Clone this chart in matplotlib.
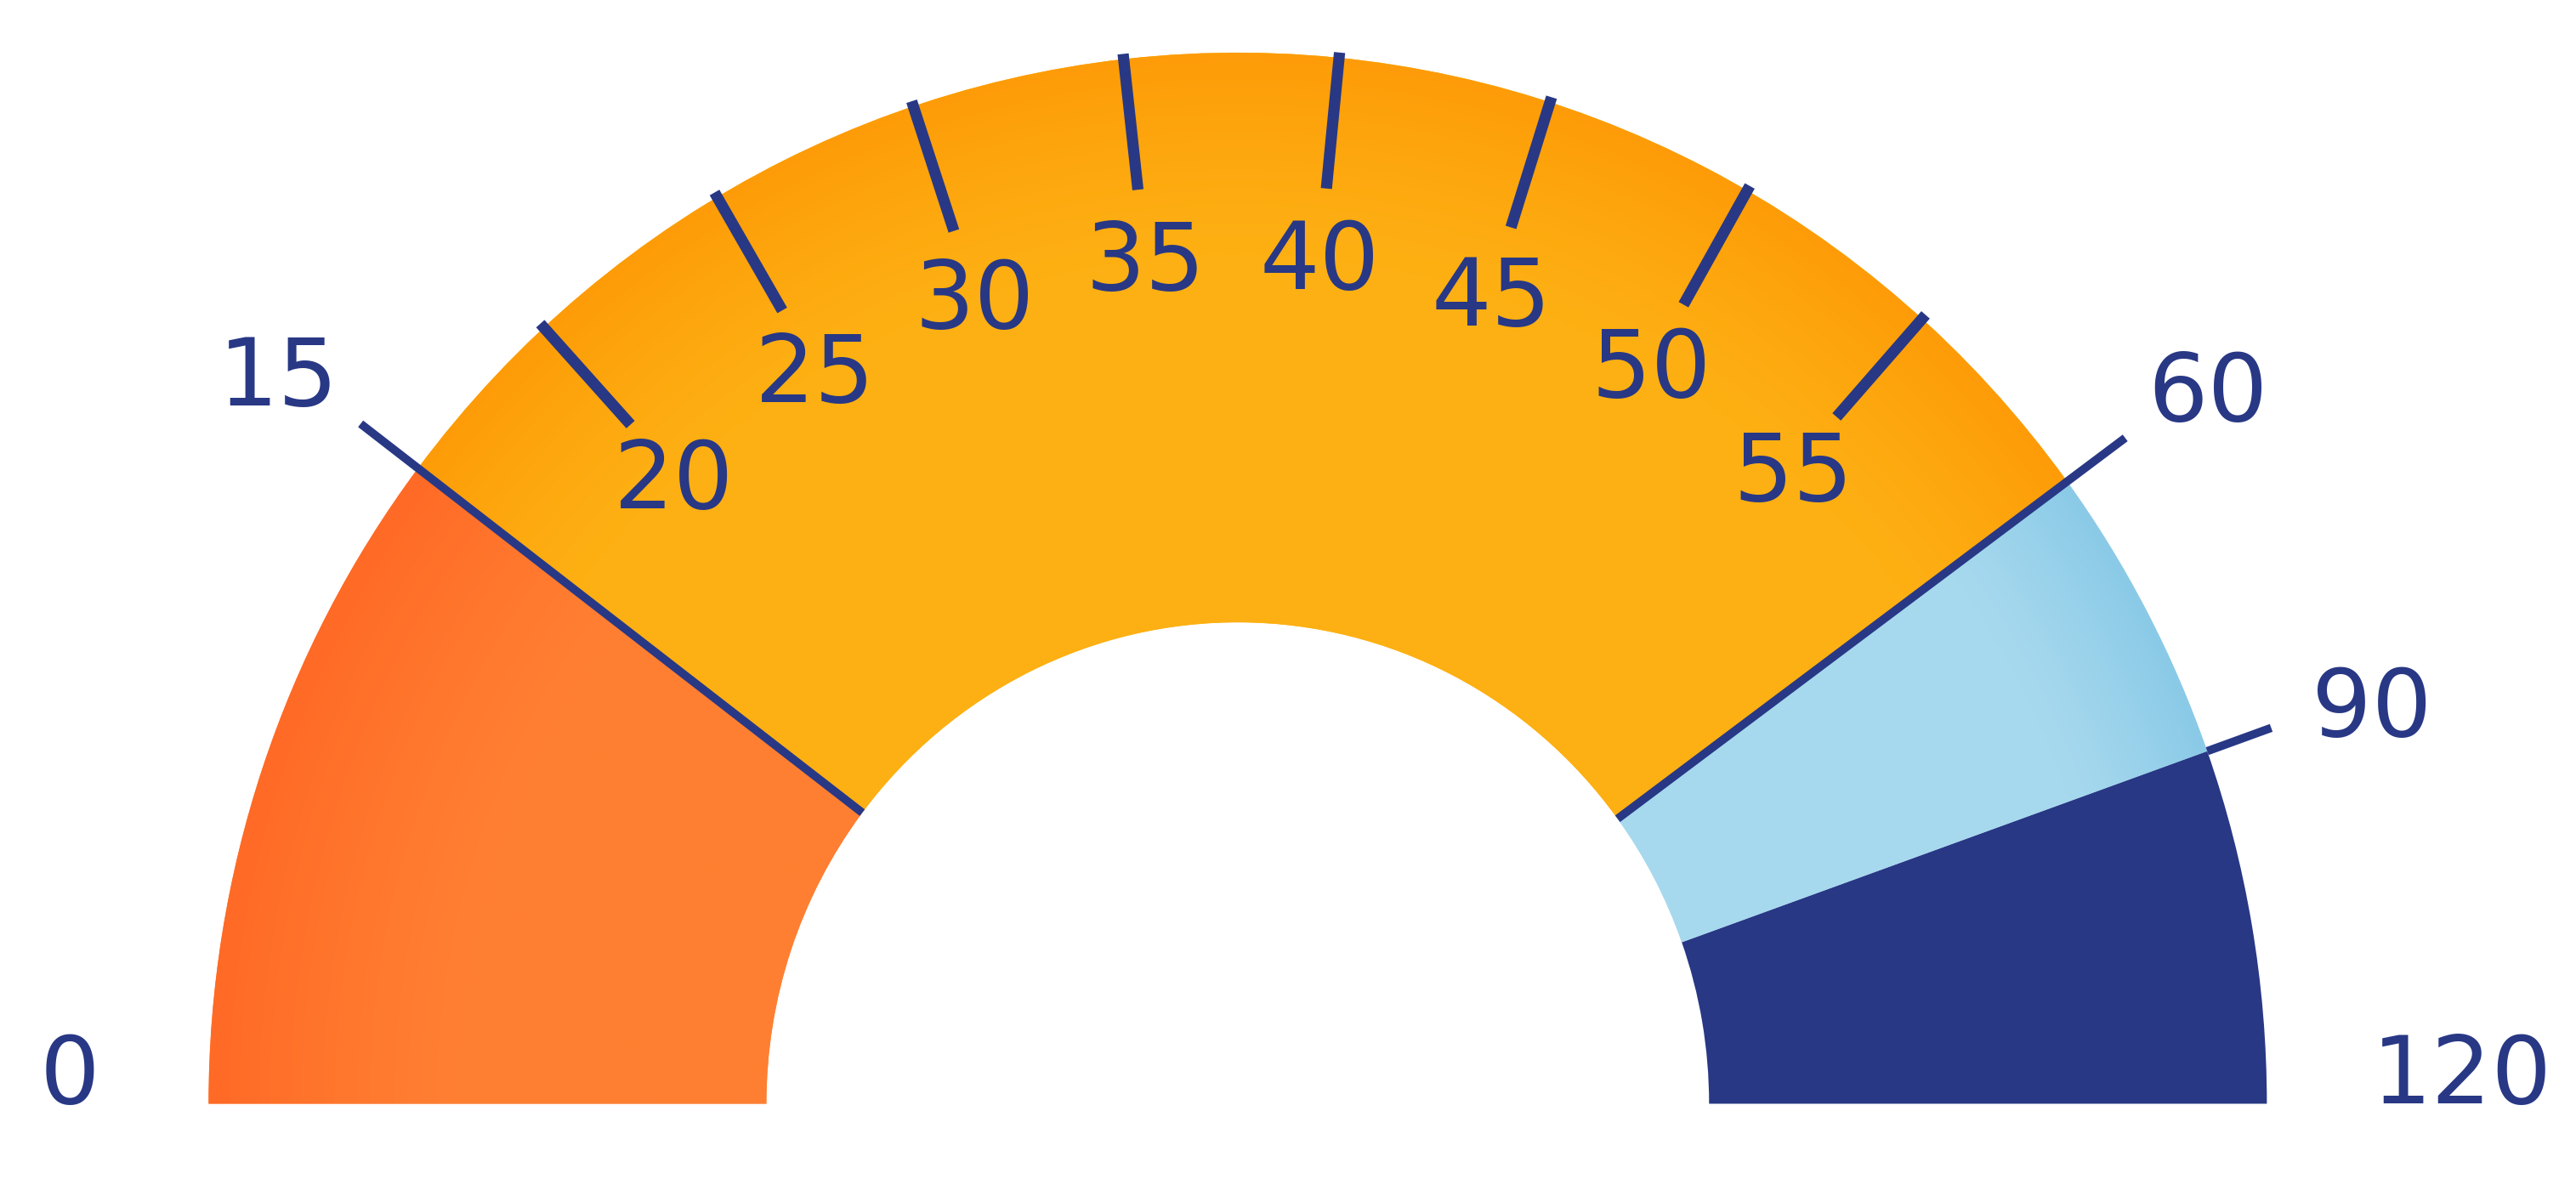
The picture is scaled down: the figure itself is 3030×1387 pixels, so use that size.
import numpy as np
import matplotlib.pyplot as plt
from matplotlib.patches import Wedge

plt.rcParams['font.family'] = ['DejaVu Sans']

# gauge scale: value -> angle (degrees), piecewise
scale_values = [0, 15, 20, 60, 90, 120]
scale_angles = [180, 142.8, 132.4, 36.3, 19.6, 0]

# coloured bands
band_starts = [0, 15, 60, 90]
band_ends = [15, 60, 90, 120]
band_colors = ['#FF7F32', '#FDB013', '#A7D9EE', '#283885']
band_dark = ['#FF6A26', '#FE9C08', '#8ACAE7', None]
band_fade = [0.76, 0.81, 0.86, None]

minor_ticks = [20, 25, 30, 35, 40, 45, 50, 55]
major_ticks = [15, 60, 90]
end_labels = [0, 120]

NAVY = '#283885'
R_IN = 0.458
W, H = 3030, 1387
XLIM = (-1.2027, 1.3004)
YLIM = (-0.0716, 1.0501)
FS = 80
HALF_CAP = 0.033


def to_angle(v):
    return np.interp(v, scale_values, scale_angles)


def polar(r, v):
    a = np.deg2rad(to_angle(v))
    return r * np.cos(a), r * np.sin(a)


def hex_rgb(c):
    c = c.lstrip('#')
    return np.array([int(c[i:i + 2], 16) / 255 for i in (0, 2, 4)])


fig = plt.figure(figsize=(W / 100, H / 100), dpi=100)
ax = fig.add_axes([0, 0, 1, 1])
ax.axis('off')

gx = np.linspace(XLIM[0], XLIM[1], 1200)
gy = np.linspace(YLIM[0], YLIM[1], 550)
GX, GY = np.meshgrid(gx, gy)
RR = np.hypot(GX, GY)

for v0, v1, col, dark, fade in zip(band_starts, band_ends, band_colors, band_dark, band_fade):
    w = Wedge((0, 0), 1.0, to_angle(v1), to_angle(v0), width=1 - R_IN,
              facecolor=col, edgecolor='none', zorder=1)
    ax.add_patch(w)
    if dark is None:
        continue
    # darker grain towards the outer rim
    t = np.clip((RR - fade) / (1.0 - fade), 0, 1) ** 1.2
    base, dk = hex_rgb(col), hex_rgb(dark)
    img = base[None, None, :] + (dk - base)[None, None, :] * t[..., None]
    im = ax.imshow(img, extent=(XLIM[0], XLIM[1], YLIM[0], YLIM[1]), origin='lower',
                   aspect='auto', interpolation='bilinear', zorder=2)
    im.set_clip_path(w)

# small ticks with numbers inside the band
for v in minor_ticks:
    x0, y0 = polar(0.875, v)
    x1, y1 = polar(1.005, v)
    ax.plot([x0, x1], [y0, y1], color=NAVY, lw=9.5, solid_capstyle='butt', zorder=3)
    tx, ty = polar(0.812, v)
    ax.text(tx, ty - HALF_CAP, str(v), ha='center', va='baseline', fontsize=FS, color=NAVY, zorder=4)

# band boundaries
for v in major_ticks:
    r0 = 1.0 if v == 90 else R_IN
    r1 = 1.066 if v == 90 else 1.07
    x0, y0 = polar(r0, v)
    x1, y1 = polar(r1, v)
    ax.plot([x0, x1], [y0, y1], color=NAVY, lw=7, solid_capstyle='butt', zorder=3)
    tx, ty = polar(1.17, v)
    ax.text(tx, ty - HALF_CAP - 0.01, str(v), ha='center', va='baseline', fontsize=FS, color=NAVY, zorder=4)

ax.text(-1.135, 0, str(end_labels[0]), ha='center', va='baseline', fontsize=FS, color=NAVY)
ax.text(1.19, 0, str(end_labels[1]), ha='center', va='baseline', fontsize=FS, color=NAVY)

ax.set_xlim(*XLIM)
ax.set_ylim(*YLIM)

fig.savefig('out.png', dpi=100, facecolor='white')
